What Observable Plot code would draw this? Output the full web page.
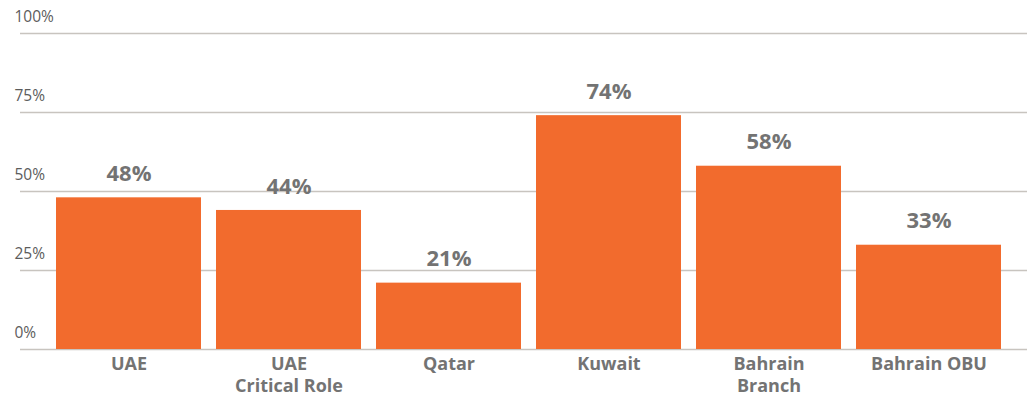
<!DOCTYPE html>
<html>
<head>
<meta charset="utf-8">
<script src="https://cdn.jsdelivr.net/npm/d3@7"></script>
<script src="https://cdn.jsdelivr.net/npm/@observablehq/plot@0.6"></script>
<style>
  html, body { margin: 0; padding: 0; background: #fff; }
  #chart svg { display: block; }
</style>
</head>
<body>
<div id="chart"></div>
<script>
const categories = ["UAE", "UAE\nCritical Role", "Qatar", "Kuwait", "Bahrain\nBranch", "Bahrain OBU"];
const values = [48, 44, 21, 74, 58, 33];
const yTicks = [0, 25, 50, 75, 100];

const data = categories.map((c, i) => ({category: c, value: values[i]}));

const chart = Plot.plot({
  width: 1027,
  height: 400,
  marginTop: 33,
  marginBottom: 51,
  marginLeft: 40,
  marginRight: 11,
  style: {fontFamily: "'Open Sans', sans-serif", background: "#fff"},
  x: {domain: categories, padding: 0.094, axis: null},
  y: {domain: [0, 100], axis: null},
  marks: [
    Plot.ruleY(yTicks, {stroke: "#c8c4bf", strokeWidth: 1.3, insetLeft: -20, insetRight: -11}),
    Plot.text(yTicks, {
      y: d => d, text: d => d + "%", frameAnchor: "left", textAnchor: "start",
      dx: -26, dy: -16, fontSize: 15.5, fill: "#5c5c5c"
    }),
    Plot.barY(data, {x: "category", y: "value", fill: "#f26b2d"}),
    Plot.text(data, {
      x: "category", y: "value", text: d => d.value + "%", dy: -24,
      fontSize: 22, fontWeight: 700, fill: "#737373"
    }),
    Plot.axisX({
      tickSize: 0, tickPadding: 5, fontSize: 18, fontWeight: 700,
      color: "#737373", lineHeight: 1.22, label: null
    })
  ]
});
document.getElementById("chart").appendChild(chart);
</script>
</body>
</html>
